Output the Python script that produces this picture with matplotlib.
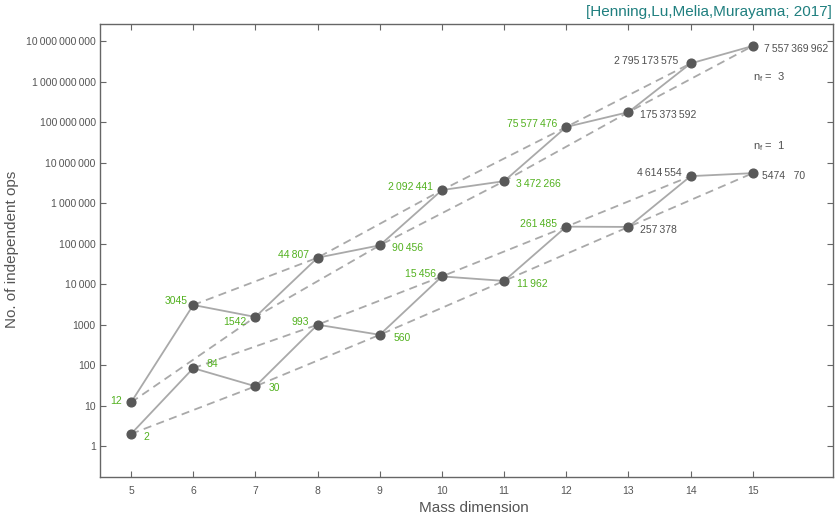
import matplotlib
matplotlib.use("Agg")
import matplotlib.pyplot as plt
import numpy as np

dims = [5, 6, 7, 8, 9, 10, 11, 12, 13, 14, 15]
ops_nf3 = [12, 3045, 1542, 44807, 90456, 2092441, 3472266, 75577476,
           175373592, 2795173575, 7557369962]
ops_nf1 = [2, 84, 30, 993, 560, 15456, 11962, 261485, 257378, 4614554, 5474170]
labels_nf3 = ["12", "3045", "1542", "44 807", "90 456", "2 092 441", "3 472 266",
              "75 577 476", "175 373 592", "2 795 173 575", "7 557 369 962"]
labels_nf1 = ["2", "84", "30", "993", "560", "15 456", "11 962", "261 485",
              "257 378", "4 614 554", "5474   70"]
ytick_vals = [1, 10, 100, 1000, 10**4, 10**5, 10**6, 10**7, 10**8, 10**9, 10**10]
ytick_labels = ["1", "10", "100", "1000", "10 000", "100 000", "1 000 000",
                "10 000 000", "100 000 000", "1 000 000 000", "10 000 000 000"]
xticks = list(range(5, 16))

# label placement (pixel offsets, alignment)
UL = (-9, 3, "right")
LR = (12, -3, "left")
place_nf3 = [(-9, 1, "right"), (-6, 4, "right"), (-9, -5, "right"), UL, LR, UL, LR, UL, LR, (-12, 2, "right"), (11, -3, "left")]
place_nf1 = [(12, -3, "left"), (13, 4, "left"), (13, -2, "left"), UL, (14, -3, "left"), (-6, 2, "right"), (13, -3, "left"), UL, LR, UL, (9, -3, "left")]

green = "#52b11f"
gray_txt = "#505050"
line_c = "#a9a9a9"
pt_c = "#585858"
thin = "\u2009"

plt.rcParams['font.family'] = ['Liberation Sans', 'DejaVu Sans']

fig = plt.figure(figsize=(8.36, 5.15), dpi=100)
ax = fig.add_axes([0.1196, 0.0732, 0.8768, 0.8802])

ax.set_yscale("log")
ax.set_xlim(4.5, 16.29)
ax.set_ylim(10**-0.77, 10**10.42)

for ops in (ops_nf3, ops_nf1):
    ax.plot(dims, ops, color=line_c, lw=1.3, zorder=2)
    ax.plot(dims[0::2], ops[0::2], color=line_c, lw=1.3, ls=(0, (4.5, 3)), zorder=1)
    ax.plot(dims[1::2], ops[1::2], color=line_c, lw=1.3, ls=(0, (4.5, 3)), zorder=1)
    ax.plot(dims, ops, ls="none", marker="o", ms=6.3, color=pt_c, zorder=3)

for ops, labs, places in ((ops_nf3, labels_nf3, place_nf3), (ops_nf1, labels_nf1, place_nf1)):
    for d, v, lab, (dx, dy, ha) in zip(dims, ops, labs, places):
        col = green if d <= 12 else gray_txt
        ax.annotate(lab.replace(" ", thin) if "   " not in lab else lab, (d, v),
                    xytext=(dx, dy), textcoords="offset pixels",
                    ha=ha, va="center", fontsize=7.5, color=col)

ax.text(15.0, 1.3e9, r"n$_\mathregular{f}$ =  3", fontsize=8, color=gray_txt, va="center")
ax.text(15.0, 2.6e7, r"n$_\mathregular{f}$ =  1", fontsize=8, color=gray_txt, va="center")

ax.set_xticks(xticks)
ax.set_xticklabels([str(x) for x in xticks])
ax.set_yticks(ytick_vals)
ax.set_yticklabels([l.replace(" ", thin) for l in ytick_labels])
ax.yaxis.set_minor_locator(matplotlib.ticker.NullLocator())

ax.tick_params(direction="in", length=4, width=0.8, color="#666666",
               labelcolor="#555555", labelsize=7.5, top=True, right=True,
               labeltop=False, labelright=False)
ax.tick_params(axis="x", pad=6)
ax.tick_params(axis="y", pad=3)
for sp in ax.spines.values():
    sp.set_color("#666666")
    sp.set_linewidth(1.0)

fig.text(0.5665, 0.0136, "Mass dimension", ha="center", va="center", fontsize=11, color="#555555")
fig.text(0.0144, 0.515, "No. of independent ops", ha="center", va="center",
         rotation=90, fontsize=11, color="#555555")
fig.text(0.9952, 0.977, "[Henning,Lu,Melia,Murayama; 2017]", ha="right", va="center",
         fontsize=11, color="#1f7f7f")

fig.savefig("out.png", dpi=100)
